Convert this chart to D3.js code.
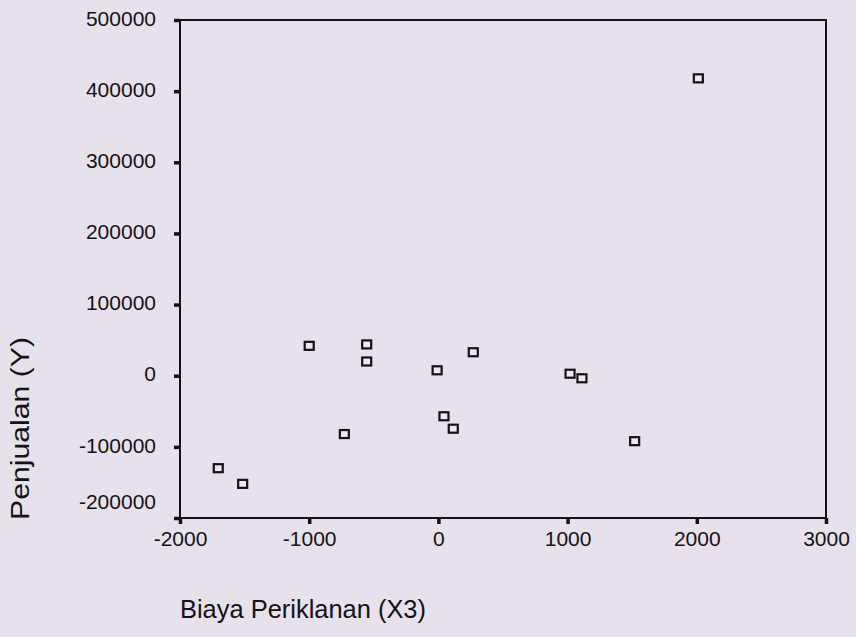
<!DOCTYPE html>
<html>
<head>
<meta charset="utf-8">
<script src="https://cdn.jsdelivr.net/npm/d3@7"></script>
<style>
  html, body { margin: 0; padding: 0; background: #e6e1ea; }
  svg { display: block; }
</style>
</head>
<body>
<svg id="chart" width="856" height="637"></svg>
<script>
// Data
const biayaPeriklanan = [-1000, -555, -555, 270, -10, 43, 115, -728, -1704, -1515, 1019, 1111, 1519, 2012];
const penjualan = [42000, 44000, 20000, 33000, 7600, -57000, -74500, -82000, -130000, -152000, 2800, -3600, -92000, 418000];
const xTicks = [-2000, -1000, 0, 1000, 2000, 3000];
const yTicks = [-200000, -100000, 0, 100000, 200000, 300000, 400000, 500000];
const xTitle = "Biaya Periklanan (X3)";
const yTitle = "Penjualan (Y)";

const svg = d3.select("#chart");
const W = 856, H = 637;
const m = { left: 180, right: 856 - 826, top: 20, bottom: 637 - 518 };

svg.append("rect").attr("width", W).attr("height", H).attr("fill", "#e6e1ea");

const x = d3.scaleLinear().domain([-2000, 3000]).range([m.left, W - m.right]);
const y = d3.scaleLinear().domain([-200000, 500000]).range([H - m.bottom, m.top]);

const font = "'Liberation Sans', Arial, sans-serif";
const ink = "#141216";
const fmt = d => String(d); // plain hyphen-minus as in the reference

// Frame
svg.append("rect")
  .attr("x", x(-2000)).attr("y", y(500000))
  .attr("width", x(3000) - x(-2000)).attr("height", y(-200000) - y(500000))
  .attr("fill", "none").attr("stroke", ink).attr("stroke-width", 2);

// Y axis
const yAxis = svg.append("g")
  .attr("transform", `translate(${x(-2000)},0)`)
  .call(d3.axisLeft(y).tickValues(yTicks).tickFormat(fmt)
        .tickSizeInner(6).tickSizeOuter(0).tickPadding(18));
yAxis.select(".domain").remove();
yAxis.selectAll(".tick line").attr("stroke", ink).attr("stroke-width", 3.5);
yAxis.selectAll(".tick text")
  .attr("fill", ink).style("font-family", font).style("font-size", "21px")
  .attr("dy", d => d === -200000 ? "-0.45em" : "0.25em");

// X axis
const xAxis = svg.append("g")
  .attr("transform", `translate(0,${y(-200000)})`)
  .call(d3.axisBottom(x).tickValues(xTicks).tickFormat(fmt)
        .tickSizeInner(6).tickSizeOuter(0).tickPadding(7));
xAxis.select(".domain").remove();
xAxis.selectAll(".tick line").attr("stroke", ink).attr("stroke-width", 3.5);
xAxis.selectAll(".tick text")
  .attr("fill", ink).style("font-family", font).style("font-size", "21px");

// Points: hollow squares
const pts = biayaPeriklanan.map((v, i) => ({ x: v, y: penjualan[i] }));
svg.append("g").selectAll("rect").data(pts).join("rect")
  .attr("x", d => x(d.x) - 4.5).attr("y", d => y(d.y) - 4)
  .attr("width", 9).attr("height", 8)
  .attr("fill", "#ece8ef").attr("stroke", ink).attr("stroke-width", 2.2);

// Axis titles
svg.append("text")
  .attr("x", 180).attr("y", 618)
  .attr("fill", ink).style("font-family", font).style("font-size", "26px")
  .attr("textLength", 246).attr("lengthAdjust", "spacingAndGlyphs")
  .text(xTitle);

svg.append("text")
  .attr("transform", "translate(29,520) rotate(-90)")
  .attr("fill", ink).style("font-family", font).style("font-size", "25px")
  .attr("textLength", 183).attr("lengthAdjust", "spacingAndGlyphs")
  .text(yTitle);
</script>
</body>
</html>
